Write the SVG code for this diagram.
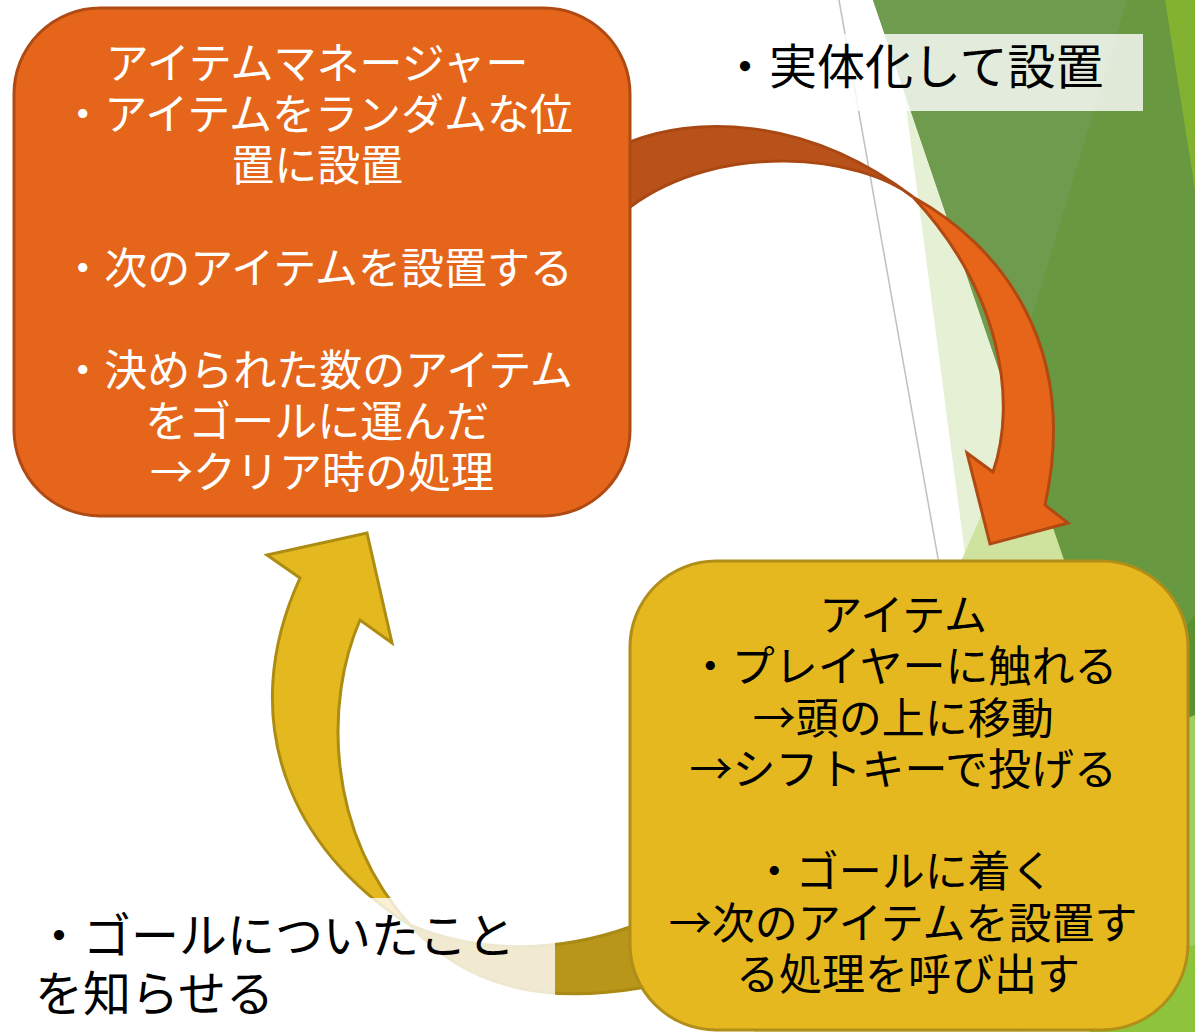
<svg xmlns="http://www.w3.org/2000/svg" width="1195" height="1032" viewBox="0 0 1195 1032">
<style>
.t{font-family:"Noto Sans CJK JP","Noto Sans",sans-serif;}
.box-text{font-size:43px;text-anchor:middle;}
.lbl{font-size:48px;fill:#000;}
.white{fill:#ffffff;}
.black{fill:#000000;}
</style>
<rect width="1195" height="1032" fill="#ffffff"/>
<g id="background">
<polygon points="892,0 1195,0 1195,1032 1028,1032" fill="#e6f0d5"/>
<polygon points="1020,427 1250,1032 754,1032" fill="#d0e39e"/>
<polygon points="873,0 1195,0 1195,944" fill="#68983f"/>
<polygon points="873,0 1127,0 1008,397" fill="#6f9b4f"/>
<polygon points="1165,0 1195,0 1195,190" fill="#82b22f"/>
<polygon points="1170,645 1195,615 1195,725 1170,725" fill="#5b9131"/>
<polygon points="1170,725 1195,715 1195,960 1170,975" fill="#a2cd62"/>
<polygon points="1090,965 1195,945 1195,1032 1090,1032" fill="#8dc43c"/>
<line x1="839" y1="0" x2="1022" y2="1032" stroke="#c0c0c0" stroke-width="1.5"/>
</g>
<g id="connectors" stroke-width="3" stroke-linejoin="miter">
<g id="arrow-manager-to-item">
<path d="M 600,150 L 630,142 C 690,118 800,112 913,197 C 860,155 720,140 630,207 L 600,222 Z" fill="#b9521a" stroke="#a94812"/>
<path d="M 913,197 C 1000,245 1080,345 1045,505 L 1068,523 L 990,544 L 967,453 L 993,472 C 1018,400 1000,290 913,197 Z" fill="#e66519" stroke="#b04a12"/>
</g>
<g id="arrow-item-to-manager">
<path d="M 410,925 C 465,985 540,1005 640,988 L 660,985 L 660,918 L 630,927 C 560,952 480,955 410,925 Z" fill="#b8961a" stroke="#a88a14"/>
<path d="M 410,925 C 290,850 235,720 300,578 L 267,555 L 367,533 L 392,643 L 360,620 C 325,700 325,830 410,925 Z" fill="#e4b91f" stroke="#ad8c12"/>
</g>
</g>
<g id="node-manager">
<rect x="14" y="8" width="616" height="508" rx="86" ry="86" fill="#e5661a" stroke="#b04a14" stroke-width="3"/>
<text class="t box-text white">
<tspan x="322" y="79">アイテムマネージャー</tspan>
<tspan x="322" y="130">・アイテムをランダムな位</tspan>
<tspan x="322" y="181">置に設置</tspan>
<tspan x="322" y="284">・次のアイテムを設置する</tspan>
<tspan x="322" y="386">・決められた数のアイテム</tspan>
<tspan x="322" y="437">をゴールに運んだ</tspan>
<tspan x="322" y="488">→クリア時の処理</tspan>
</text>
</g>
<g id="node-item">
<rect x="630" y="561" width="558" height="469" rx="86" ry="86" fill="#e5b820" stroke="#b08e18" stroke-width="3"/>
<text class="t box-text black">
<tspan x="908" y="631">アイテム</tspan>
<tspan x="908" y="682">・プレイヤーに触れる</tspan>
<tspan x="908" y="734">→頭の上に移動</tspan>
<tspan x="908" y="785">→シフトキーで投げる</tspan>
<tspan x="908" y="887">・ゴールに着く</tspan>
<tspan x="908" y="939">→次のアイテムを設置す</tspan>
<tspan x="908" y="990">る処理を呼び出す</tspan>
</text>
</g>
<g id="label-spawn">
<rect x="710" y="34" width="433" height="77" fill="#ffffff" fill-opacity="0.8"/>
<text class="t lbl" x="721" y="84">・実体化して設置</text>
</g>
<g id="label-goal">
<rect x="20" y="898" width="535" height="134" fill="#ffffff" fill-opacity="0.8"/>
<text class="t lbl">
<tspan x="35" y="953">・ゴールについたこと</tspan>
<tspan x="35" y="1011">を知らせる</tspan>
</text>
</g>
</svg>
